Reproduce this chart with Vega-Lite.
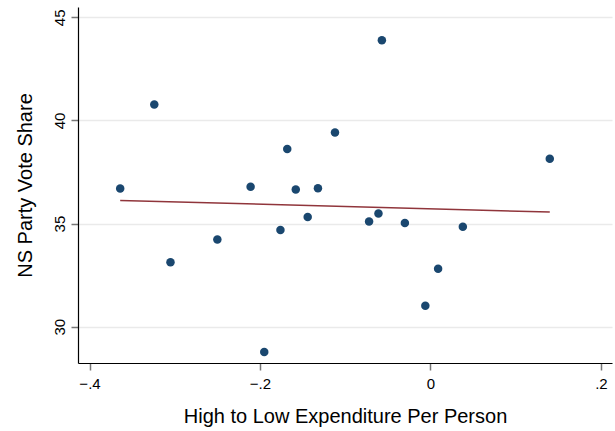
{
  "$schema": "https://vega.github.io/schema/vega-lite/v6.json",
  "width": 534,
  "height": 356,
  "autosize": "none",
  "padding": {"left": 78, "top": 7, "right": 3, "bottom": 68},
  "background": "white",
  "config": {
    "view": {"stroke": null},
    "font": "Liberation Sans"
  },
  "datasets": {
    "pts": [
      {"exp": -0.364, "share": 36.70},
      {"exp": -0.324, "share": 40.77},
      {"exp": -0.305, "share": 33.13},
      {"exp": -0.250, "share": 34.23},
      {"exp": -0.211, "share": 36.79},
      {"exp": -0.195, "share": 28.77},
      {"exp": -0.176, "share": 34.69},
      {"exp": -0.168, "share": 38.62},
      {"exp": -0.158, "share": 36.65},
      {"exp": -0.144, "share": 35.32},
      {"exp": -0.132, "share": 36.71},
      {"exp": -0.112, "share": 39.41},
      {"exp": -0.072, "share": 35.10},
      {"exp": -0.061, "share": 35.49},
      {"exp": -0.057, "share": 43.89},
      {"exp": -0.030, "share": 35.03},
      {"exp": -0.006, "share": 31.01},
      {"exp": 0.009, "share": 32.81},
      {"exp": 0.038, "share": 34.85},
      {"exp": 0.140, "share": 38.14}
    ],
    "fit": [
      {"exp": -0.364, "share": 36.12},
      {"exp": 0.140, "share": 35.56}
    ]
  },
  "layer": [
    {
      "data": {"name": "pts"},
      "mark": {"type": "circle", "size": 72, "color": "#1a476f", "opacity": 1},
      "encoding": {
        "x": {
          "field": "exp", "type": "quantitative",
          "scale": {"domain": [-0.4135, 0.213], "nice": false, "zero": false},
          "axis": {
            "values": [-0.4, -0.2, 0, 0.2],
            "labelExpr": "datum.value == 0 ? '0' : replace(format(datum.value, '.1f'), '0.', '.')",
            "title": "High to Low Expenditure Per Person",
            "grid": false,
            "domainColor": "#000000", "domainWidth": 1.2,
            "tickColor": "#777777", "tickSize": 7, "tickWidth": 1.5,
            "labelFontSize": 15, "labelColor": "#000000", "labelPadding": 6,
            "labelFont": "Liberation Sans",
            "titleFontSize": 20, "titleFontWeight": "normal", "titleColor": "#000000",
            "titlePadding": 15, "titleFont": "Liberation Sans"
          }
        },
        "y": {
          "field": "share", "type": "quantitative",
          "scale": {"domain": [28.24, 45.5], "nice": false, "zero": false},
          "axis": {
            "values": [30, 35, 40, 45],
            "title": "NS Party Vote Share",
            "grid": true, "gridColor": "#eaeaea", "gridWidth": 1.5,
            "domainColor": "#000000", "domainWidth": 1.2,
            "tickColor": "#777777", "tickSize": 7, "tickWidth": 1.5,
            "labelAngle": -90, "labelAlign": "center", "labelBaseline": "bottom",
            "labelFontSize": 15, "labelColor": "#000000", "labelPadding": 4,
            "labelFont": "Liberation Sans",
            "titleFontSize": 20, "titleFontWeight": "normal", "titleColor": "#000000",
            "titlePadding": 17, "titleFont": "Liberation Sans"
          }
        }
      }
    },
    {
      "data": {"name": "fit"},
      "mark": {"type": "line", "color": "#90353b", "strokeWidth": 1.5},
      "encoding": {
        "x": {"field": "exp", "type": "quantitative"},
        "y": {"field": "share", "type": "quantitative"}
      }
    }
  ]
}
